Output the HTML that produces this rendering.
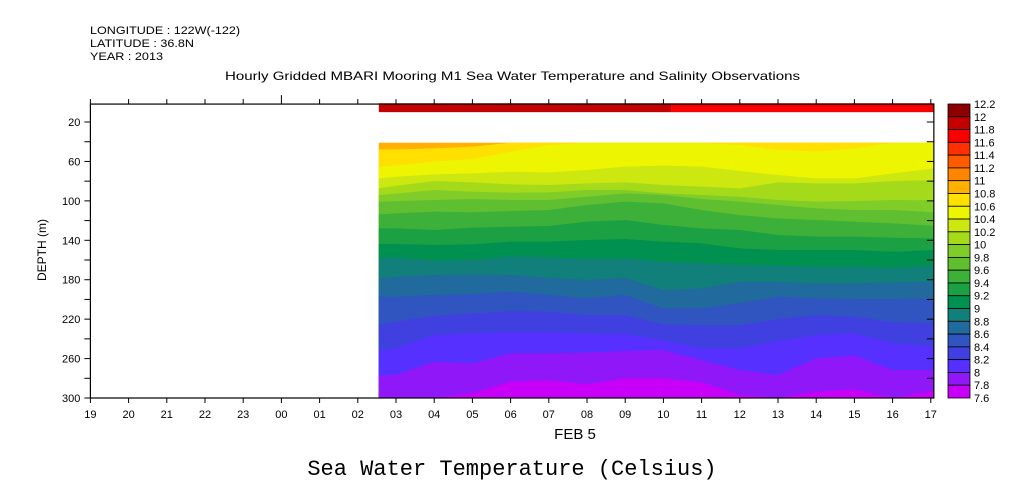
<!DOCTYPE html>
<html><head><meta charset="utf-8">
<style>
body{margin:0;background:#fff;}
svg{display:block;font-family:"Liberation Sans",sans-serif;}
</style></head>
<body>
<svg id="chart" width="1009" height="504" viewBox="0 0 1009 504">
<text x="90" y="34" font-size="11" textLength="150" lengthAdjust="spacingAndGlyphs">LONGITUDE : 122W(-122)</text>
<text x="90" y="47" font-size="11" textLength="104" lengthAdjust="spacingAndGlyphs">LATITUDE : 36.8N</text>
<text x="90" y="60" font-size="11" textLength="73" lengthAdjust="spacingAndGlyphs">YEAR : 2013</text>
<text x="225" y="80" font-size="12" textLength="575" lengthAdjust="spacingAndGlyphs">Hourly Gridded MBARI Mooring M1 Sea Water Temperature and Salinity Observations</text>
<g id="plot"></g>
<g id="axes"></g>
<g id="cbar"></g>
<text transform="translate(46,250) rotate(-90)" font-size="12" text-anchor="middle">DEPTH (m)</text>
<text x="575" y="439" font-size="15" text-anchor="middle">FEB  5</text>
<text x="512" y="475" font-size="22" text-anchor="middle" font-family="Liberation Mono, monospace">Sea Water Temperature (Celsius)</text>
</svg>
<script>
// hours since 19:00 Feb 4; data columns
const colHours=[7.55,8,9,10,11,12,13,14,15,16,17,18,19,20,21,22.08];
const levels=[10.8,10.6,10.4,10.2,10.0,9.8,9.6,9.4,9.2,9.0,8.8,8.6,8.4,8.2,8.0,7.8];
const isoDepths=[
[47.7,47.7,46.7,45.0,41,41,41,41,41,41,41,41,41,41,41,41],
[65.3,64.3,60.2,57.5,50.1,43.3,41,41,41,41,43.3,48.4,50.1,46.7,41,41],
[77.2,75.5,73.1,72.1,70.4,71.1,68.7,65.3,64.3,65.3,69.7,73.8,77.2,77.2,72.1,67.0],
[87.3,84.6,79.9,81.2,83.2,83.9,82.2,81.2,83.9,85.6,87.3,81.2,82.2,82.2,79.9,78.9],
[94.1,92.7,89.0,90.7,91.7,91.4,89.0,89.0,92.4,94.1,95.8,99.1,100.8,100.2,99.1,99.5],
[100.8,100.2,99.1,98.1,99.1,99.1,95.8,92.4,94.1,98.1,100.8,104.2,107.6,109.3,109.3,111.7],
[113.7,112.7,111.0,111.6,110.3,109.3,104.2,100.8,102.5,109.3,114.4,117.7,119.4,121.1,122.8,125.2],
[127.9,127.9,129.6,127.2,126.2,125.5,121.1,119.4,124.5,127.9,129.6,134.6,136.3,136.3,137.4,138.0],
[143.8,143.8,144.8,144.1,141.4,141.4,139.7,138.7,141.4,143.1,148.2,149.9,149.9,149.9,151.6,149.9],
[158.3,157.3,160.7,160.0,156.6,157.3,159.0,158.3,161.7,163.4,165.1,165.8,166.8,166.8,167.8,166.1],
[178.6,176.9,175.2,174.6,175.2,177.9,180.3,177.9,190.4,188.8,182.0,182.0,183.7,183.7,182.7,182.0],
[197.2,197.2,195.5,194.5,192.1,195.5,198.9,195.5,209.1,209.1,204.0,197.2,198.9,199.6,199.6,198.9],
[225.0,222.6,216.5,214.1,211.8,212.4,215.8,215.8,225.3,226.0,226.0,219.9,215.8,217.5,222.6,224.0],
[252.3,249.6,236.1,234.4,233.4,233.4,234.8,235.4,241.2,249.6,249.6,242.2,236.1,234.4,244.6,247.9],
[276.7,276.7,263.2,264.9,254.7,254.7,253.7,252.3,251.3,261.5,271.6,276.7,259.8,257.1,271.6,271.6],
[299.7,299.7,299.7,295.3,283.5,282.1,286.2,280.1,280.1,284.1,297.0,299.7,293.6,291.2,299.7,292.9]
];
const surfaceHours=[7.55,15.2,22.08];
const surfaceTemps=[11.9,11.7];
const surfaceDepthRange=[1,10];
const dataDepthRange=[41,300];
const cbLevels=[12.2,12,11.8,11.6,11.4,11.2,11,10.8,10.6,10.4,10.2,10,9.8,9.6,9.4,9.2,9,8.8,8.6,8.4,8.2,8,7.8,7.6];
const cbColors=["#8c0000","#c40000","#f80000","#ff3000","#ff5a00","#ff8400","#ffb000","#ffe000","#eef500","#cde810","#a5da1a","#80cc28","#60bf30","#3db03a","#1ba043","#009050","#12807a","#206a9e","#3055c0","#4040e0","#5530ff","#9018f8","#c800f8"];
const xTickLabels=["19","20","21","22","23","00","01","02","03","04","05","06","07","08","09","10","11","12","13","14","15","16","17"];
const yTicks=[20,60,100,140,180,220,260,300];

const NS="http://www.w3.org/2000/svg";
const X=h=>90.4+h*38.2;
const Y=d=>102.3+d*0.9857;
function colorFor(t){for(let i=0;i<cbColors.length;i++){if(t<=cbLevels[i]&&t>=cbLevels[i+1])return cbColors[i];}return "#fff";}
function mk(tag,attrs,parent){const e=document.createElementNS(NS,tag);for(const k in attrs)e.setAttribute(k,attrs[k]);parent.appendChild(e);return e;}
const plotG=document.getElementById('plot'),axesG=document.getElementById('axes'),cbG=document.getElementById('cbar');

for(let i=0;i<surfaceTemps.length;i++){
  const r=mk('rect',{x:X(surfaceHours[i]),y:Y(surfaceDepthRange[0]),width:X(surfaceHours[i+1])-X(surfaceHours[i]),height:Y(surfaceDepthRange[1])-Y(surfaceDepthRange[0]),fill:colorFor(surfaceTemps[i])},plotG);
  
  
}
const base=mk('rect',{x:X(colHours[0]),y:Y(dataDepthRange[0]),width:X(colHours[colHours.length-1])-X(colHours[0]),height:Y(dataDepthRange[1])-Y(dataDepthRange[0]),fill:colorFor(levels[0]+0.1)},plotG);


levels.forEach((lv,k)=>{
  const ds=isoDepths[k];
  let pts=colHours.map((h,i)=>X(h)+','+Y(ds[i]));
  pts.push(X(colHours[colHours.length-1])+','+Y(dataDepthRange[1]));
  pts.push(X(colHours[0])+','+Y(dataDepthRange[1]));
  const p=mk('polygon',{points:pts.join(' '),fill:colorFor(lv-0.1)},plotG);
  
  
});

const yTop=Y(1.8),yBot=Y(300);
mk('rect',{x:X(0),y:yTop,width:X(22.08)-X(0),height:yBot-yTop,fill:'none',stroke:'#000','stroke-width':1.2},axesG);
xTickLabels.forEach((l,i)=>{
  const x=X(i);
  mk('line',{x1:x,x2:x,y1:yTop,y2:yTop-(l==="00"?9:5),stroke:'#000'},axesG);
  mk('line',{x1:x,x2:x,y1:yBot,y2:yBot+5,stroke:'#000'},axesG);
  const t=mk('text',{x:x,y:yBot+20,'font-size':11,'text-anchor':'middle'},axesG);
  t.textContent=l;
  
  
});
for(let d=20;d<=300;d+=20){
  const y=Y(d);
  mk('line',{x1:X(0),x2:X(0)-6,y1:y,y2:y,stroke:'#000'},axesG);
  mk('line',{x1:X(22.08),x2:X(22.08)-7,y1:y,y2:y,stroke:'#000'},axesG);
}
yTicks.forEach(d=>{
  const t=mk('text',{x:X(0)-10,y:Y(d)+4,'font-size':11,'text-anchor':'end'},axesG);
  t.textContent=d;
  
  
});
const cbTop=104,cbBot=398,bh=(cbBot-cbTop)/cbColors.length;
cbColors.forEach((c,i)=>{
  const r=mk('rect',{x:948,y:cbTop+i*bh,width:22,height:bh,fill:c,stroke:'#000','stroke-width':0.8},cbG);
  
  
});
cbLevels.forEach((v,i)=>{
  const t=mk('text',{x:974,y:cbTop+i*bh+4,'font-size':11},cbG);
  t.textContent=String(v);
  
  
});
</script>
</body></html>
